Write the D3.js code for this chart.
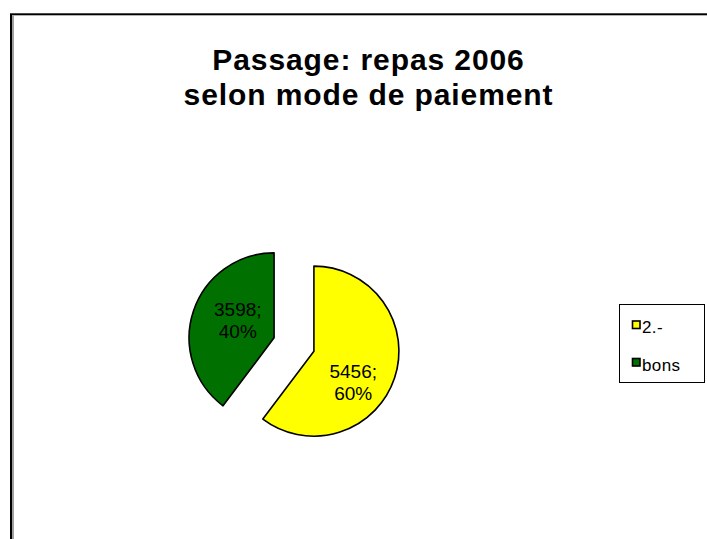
<!DOCTYPE html>
<html>
<head>
<meta charset="utf-8">
<script src="https://cdn.jsdelivr.net/npm/d3@7"></script>
<style>
  body { margin: 0; background: #fff; }
  text { font-family: "Liberation Sans", Arial, sans-serif; }
</style>
</head>
<body>
<div id="chart"></div>
<script>
// pie data: meals served in 2006 by payment mode
const categories = ["2.-", "bons"];
const values = [5456, 3598];
const colors = ["#ffff00", "#007000"];
const titleLines = ["Passage: repas 2006", "selon mode de paiement"];

const width = 707,
    height = 539,
    radius = 85,
    explode = 21,
    center = { x: 294, y: 344.5 };

const svg = d3.select("#chart")
    .append("svg")
    .attr("width", width)
    .attr("height", height);

// outer frame (runs off the right and bottom)
svg.append("rect")
    .attr("x", 11).attr("y", 14.3)
    .attr("width", 800).attr("height", 600)
    .attr("fill", "none")
    .attr("stroke", "#000")
    .attr("stroke-width", 2);
svg.append("line")
    .attr("x1", 13).attr("x2", 13)
    .attr("y1", 15.3).attr("y2", height)
    .attr("stroke", "#a0a0a0")
    .attr("stroke-width", 2);

// title
svg.append("text")
    .attr("x", 368.5)
    .attr("y", 70)
    .attr("text-anchor", "middle")
    .attr("font-size", 30)
    .attr("font-weight", "bold")
    .attr("letter-spacing", 0.9)
    .selectAll("tspan")
    .data(titleLines)
    .join("tspan")
      .attr("x", 368.5)
      .attr("dy", (d, i) => i ? 35 : 0)
      .text(d => d);

const total = d3.sum(values);
const pie = d3.pie().sort(null)(values);
const arc = d3.arc().innerRadius(0).outerRadius(radius);

// exploded slices
const slices = svg.append("g")
    .attr("transform", `translate(${center.x},${center.y})`)
    .selectAll("g")
    .data(pie)
    .join("g")
      .attr("transform", d => {
        const a = (d.startAngle + d.endAngle) / 2;
        return `translate(${Math.sin(a) * explode},${-Math.cos(a) * explode})`;
      });

slices.append("path")
    .attr("d", arc)
    .attr("fill", (d, i) => colors[i])
    .attr("stroke", "#000")
    .attr("stroke-width", 1.6)
    .attr("stroke-linejoin", "round");

// data labels "value; pct%" - small nudges to sit like the original
const nudge = [[-1, 17], [4, -4]];
slices.append("text")
    .attr("text-anchor", "middle")
    .attr("font-size", 19)
    .attr("fill", "#000")
    .each(function (d, i) {
      const [cx, cy] = arc.centroid(d);
      const x = cx + nudge[i][0], y = cy + nudge[i][1];
      const pct = Math.round(d.value / total * 100);
      const t = d3.select(this);
      t.append("tspan").attr("x", x).attr("y", y - 4).text(d.value + ";");
      t.append("tspan").attr("x", x).attr("y", y + 18).text(pct + "%");
    });

// legend
const legend = svg.append("g");
legend.append("rect")
    .attr("x", 619.5).attr("y", 304.5)
    .attr("width", 85).attr("height", 78)
    .attr("fill", "#fff")
    .attr("stroke", "#000")
    .attr("stroke-width", 1);

const items = legend.selectAll("g.item")
    .data(categories)
    .join("g")
      .attr("class", "item")
      .attr("transform", (d, i) => `translate(632.5,${321 + i * 37.5})`);
items.append("rect")
    .attr("width", 7.5).attr("height", 7.5)
    .attr("fill", (d, i) => colors[i])
    .attr("stroke", "#000")
    .attr("stroke-width", 1.6);
items.append("text")
    .attr("x", 9.5)
    .attr("y", 12)
    .attr("font-size", 17)
    .attr("letter-spacing", 0.4)
    .text(d => d);
</script>
</body>
</html>
